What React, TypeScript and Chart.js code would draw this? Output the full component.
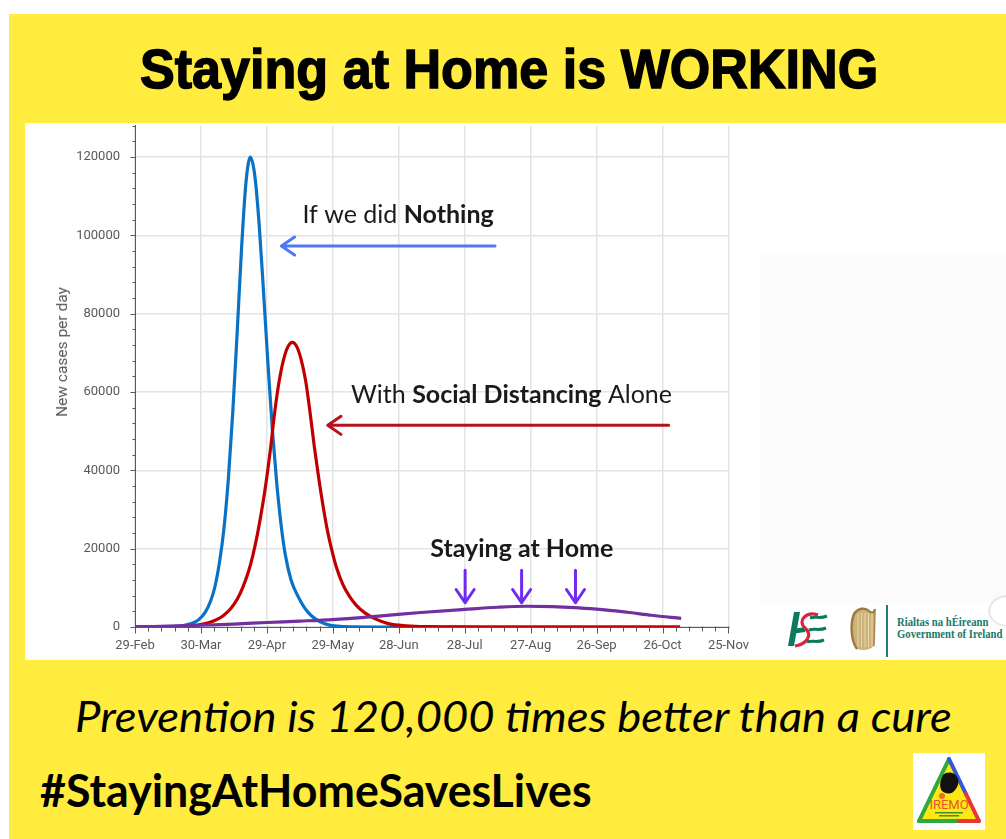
import React, { useEffect, useLayoutEffect, useRef, useState } from 'react';
import { Chart, registerables } from 'chart.js';

Chart.register(...registerables);

// ---------- data ----------
const X_TICK_DAYS = [0, 30, 60, 90, 120, 150, 180, 210, 240, 270];
const X_TICK_LABELS = ['29-Feb', '30-Mar', '29-Apr', '29-May', '28-Jun', '28-Jul', '27-Aug', '26-Sep', '26-Oct', '25-Nov'];
const Y_TICKS = [0, 20000, 40000, 60000, 80000, 100000, 120000];
const X_MAX = 270;
const Y_MAX = 128000;
const X_MINOR_STEP = 6;
const Y_MINOR_STEP = 4000;

// "If we did Nothing" (day since 29-Feb, new cases per day)
const NOTHING_DAYS = [0, 10, 17, 22, 26, 29, 32, 34.5, 36.5, 38.5, 40.5, 42.5, 44.5, 46.5, 48.5, 50.5, 52.5, 54.5, 56.5, 58.5, 60.5, 62.5, 64.5, 66.5, 68.5, 71, 74, 77, 80, 84, 88, 92, 100, 110, 248];
const NOTHING_CASES = [0, 22, 113, 367, 935, 1890, 3800, 6750, 10600, 16700, 25300, 38000, 55000, 75400, 96900, 113600, 120000, 115300, 102700, 85400, 67100, 50400, 36600, 25900, 18100, 12000, 8000, 5000, 3000, 1400, 550, 200, 30, 0, 0];

// "With Social Distancing Alone"
const DISTANCING_DAYS = [0, 10, 18, 25, 31, 36, 40, 43.6, 46.6, 49.1, 51.6, 53.6, 55.6, 57.6, 59.6, 61.6, 63.6, 65.6, 67.6, 69.6, 71.6, 73.6, 75.6, 77.6, 79.6, 81.6, 83.6, 85.6, 87.6, 89.6, 91.6, 94.6, 97.6, 100.6, 104.6, 109.6, 115.6, 123.6, 133.6, 146.6, 160, 248];
const DISTANCING_CASES = [0, 30, 116, 323, 770, 1590, 2830, 4700, 7190, 10200, 14100, 18250, 23400, 29600, 36800, 45300, 55000, 62800, 68300, 71600, 72700, 71600, 68300, 63000, 55000, 46000, 38000, 30800, 24500, 19500, 15300, 10800, 7800, 5600, 3600, 2000, 800, 300, 80, 10, 0, 0];

// "Staying at Home"
const HOME_DAYS = [0, 15, 30, 45, 60, 75, 90, 111, 130, 150, 165, 178, 190, 200, 210, 217, 225, 235, 248.5];
const HOME_CASES = [0, 200, 450, 750, 1150, 1500, 1900, 2800, 3700, 4500, 5050, 5300, 5200, 4950, 4550, 4200, 3700, 3000, 2200];

// ---------- annotations (data units) ----------
const ANNOTATION_ARROWS = [
  { x1: 163.8, y1: 97300, x2: 66.6, y2: 97300, color: '#4F78F2' },
  { x1: 242.8, y1: 51500, x2: 87.7, y2: 51500, color: '#B5121B' },
  { x1: 150.2, y1: 14500, x2: 150.2, y2: 6200, color: '#6F2BEF' },
  { x1: 175.9, y1: 14500, x2: 175.9, y2: 6200, color: '#6F2BEF' },
  { x1: 200.4, y1: 14500, x2: 200.4, y2: 6200, color: '#6F2BEF' },
];
const ANNOTATION_TEXTS = [
  { x: 76.2, y: 103200, align: 'left', parts: [['If we did ', false], ['Nothing', true]] },
  { x: 98.3, y: 57200, align: 'left', parts: [['With ', false], ['Social Distancing', true], [' Alone', false]] },
  { x: 176, y: 17900, align: 'center', parts: [['Staying at Home', true]] },
];

const toPoints = (xs: number[], ys: number[]) => xs.map((x, i) => ({ x, y: ys[i] }));

const AXIS_GREY = '#595959';
const ANN_FONT = 'Lato, "Open Sans", sans-serif';
const ANN_SIZE = 25;

const decorPlugin = {
  id: 'decor',
  beforeDatasetsDraw(chart: any) {
    const { ctx, scales } = chart;
    const x = scales.x;
    const y = scales.y;
    ctx.save();
    ctx.strokeStyle = AXIS_GREY;
    ctx.lineWidth = 1;
    const x0 = Math.round(x.getPixelForValue(0)) + 0.5;
    for (let v = 0; v <= Y_MAX; v += Y_MINOR_STEP) {
      const py = Math.round(y.getPixelForValue(v)) + 0.5;
      const len = v % 20000 === 0 ? 5 : 3;
      ctx.beginPath();
      ctx.moveTo(x0 - len, py);
      ctx.lineTo(x0, py);
      ctx.stroke();
    }
    const y0 = Math.round(y.getPixelForValue(0)) + 0.5;
    for (let d = 0; d <= X_MAX; d += X_MINOR_STEP) {
      const px = Math.round(x.getPixelForValue(d)) + 0.5;
      const len = d % 30 === 0 ? 6 : 4;
      ctx.beginPath();
      ctx.moveTo(px, y0 - 1);
      ctx.lineTo(px, y0 + len);
      ctx.stroke();
    }
    ctx.restore();
  },
  afterDatasetsDraw(chart: any) {
    const { ctx, scales } = chart;
    const x = scales.x;
    const y = scales.y;
    ctx.save();
    ctx.lineCap = 'round';
    ctx.lineJoin = 'round';
    for (const a of ANNOTATION_ARROWS) {
      const px1 = x.getPixelForValue(a.x1);
      const py1 = y.getPixelForValue(a.y1);
      const px2 = x.getPixelForValue(a.x2);
      const py2 = y.getPixelForValue(a.y2);
      const ang = Math.atan2(py2 - py1, px2 - px1);
      const head = 16;
      const spread = 0.6;
      ctx.strokeStyle = a.color;
      ctx.lineWidth = 3;
      ctx.beginPath();
      ctx.moveTo(px1, py1);
      ctx.lineTo(px2, py2);
      ctx.moveTo(px2 - head * Math.cos(ang - spread), py2 - head * Math.sin(ang - spread));
      ctx.lineTo(px2, py2);
      ctx.lineTo(px2 - head * Math.cos(ang + spread), py2 - head * Math.sin(ang + spread));
      ctx.stroke();
    }
    ctx.fillStyle = '#1a1a1a';
    ctx.textBaseline = 'alphabetic';
    ctx.textAlign = 'left';
    for (const t of ANNOTATION_TEXTS) {
      let total = 0;
      const widths: number[] = [];
      for (const [s, b] of t.parts as [string, boolean][]) {
        ctx.font = `${b ? 'bold ' : ''}${ANN_SIZE}px ${ANN_FONT}`;
        const w = ctx.measureText(s).width;
        widths.push(w);
        total += w;
      }
      let px = x.getPixelForValue(t.x);
      if (t.align === 'center') px -= total / 2;
      const py = y.getPixelForValue(t.y);
      (t.parts as [string, boolean][]).forEach(([s, b], i) => {
        ctx.font = `${b ? 'bold ' : ''}${ANN_SIZE}px ${ANN_FONT}`;
        ctx.fillText(s, px, py);
        px += widths[i];
      });
    }
    ctx.restore();
  },
};

function FitText(props: { text: React.ReactNode; left: number; top: number; width: number; style: React.CSSProperties }) {
  const ref = useRef<HTMLSpanElement>(null);
  const [sx, setSx] = useState(1);
  useLayoutEffect(() => {
    if (ref.current) {
      const w = ref.current.offsetWidth;
      if (w > 0) setSx(props.width / w);
    }
  }, []);
  return (
    <span
      ref={ref}
      style={{
        position: 'absolute',
        left: props.left,
        top: props.top,
        whiteSpace: 'nowrap',
        lineHeight: 1,
        transform: `scaleX(${sx})`,
        transformOrigin: 'left top',
        ...props.style,
      }}
    >
      {props.text}
    </span>
  );
}

function LineChart() {
  const ref = useRef<HTMLCanvasElement>(null);
  useEffect(() => {
    if (!ref.current) return;
    const tickFont = { family: 'Roboto, "Open Sans", sans-serif', size: 13 };
    const chart = new Chart(ref.current, {
      type: 'line',
      data: {
        datasets: [
          {
            label: 'Staying at Home',
            data: toPoints(HOME_DAYS, HOME_CASES),
            borderColor: '#7030A0',
            borderWidth: 3.2,
            pointRadius: 0,
            cubicInterpolationMode: 'monotone',
          },
          {
            label: 'With Social Distancing Alone',
            data: toPoints(DISTANCING_DAYS, DISTANCING_CASES),
            borderColor: '#C00000',
            borderWidth: 3.2,
            pointRadius: 0,
            cubicInterpolationMode: 'monotone',
          },
          {
            label: 'If we did Nothing',
            data: toPoints(NOTHING_DAYS, NOTHING_CASES),
            borderColor: '#0A72C4',
            borderWidth: 3.2,
            pointRadius: 0,
            cubicInterpolationMode: 'monotone',
          },
        ],
      },
      options: {
        animation: false,
        responsive: false,
        devicePixelRatio: 1,
        layout: { padding: { top: 20, right: 30, left: 0, bottom: 0 } },
        plugins: { legend: { display: false }, tooltip: { enabled: false } },
        scales: {
          x: {
            type: 'linear',
            min: 0,
            max: X_MAX,
            afterBuildTicks: (s: any) => {
              s.ticks = X_TICK_DAYS.map((v) => ({ value: v }));
            },
            afterFit: (s: any) => {
              s.height = 30;
            },
            ticks: {
              autoSkip: false,
              maxRotation: 0,
              padding: 11,
              color: AXIS_GREY,
              font: tickFont,
              callback: (v: any) => {
                const i = X_TICK_DAYS.indexOf(Number(v));
                return i >= 0 ? X_TICK_LABELS[i] : '';
              },
            },
            grid: { color: '#E4E4E4', lineWidth: 1.5, drawTicks: false },
            border: { color: AXIS_GREY, width: 1 },
          },
          y: {
            min: 0,
            max: Y_MAX,
            afterBuildTicks: (s: any) => {
              s.ticks = Y_TICKS.map((v) => ({ value: v }));
            },
            afterFit: (s: any) => {
              s.width = 110;
            },
            ticks: {
              padding: 15,
              color: AXIS_GREY,
              font: tickFont,
              callback: (v: any) => String(v),
            },
            grid: { color: '#E4E4E4', lineWidth: 1.5, drawTicks: false },
            border: { color: AXIS_GREY, width: 1 },
          },
        },
      },
      plugins: [decorPlugin],
    } as any);
    return () => chart.destroy();
  }, []);
  return (
    <canvas
      ref={ref}
      width={735}
      height={554}
      style={{ position: 'absolute', left: 25, top: 103, width: 735, height: 554 }}
    />
  );
}

function HseLogo() {
  return (
    <svg width="46" height="38" viewBox="0 0 46 38" style={{ position: 'absolute', left: 783, top: 610 }}>
      <path d="M5 36 L11 36 L17 2 L11 2 Z" fill="#0B7A5E" />
      <path d="M9 19 L23 17 L22 22 L8 24 Z" fill="#0B7A5E" />
      <path d="M35 5 C23 1, 14 11, 22 18 C30 25, 24 34, 12 36" stroke="#D7263D" strokeWidth="3.2" fill="none" />
      <path d="M27 8 C32 6, 37 9, 44 6" stroke="#0B7A5E" strokeWidth="3" fill="none" />
      <path d="M26 20 C31 18, 36 21, 43 18" stroke="#0B7A5E" strokeWidth="3" fill="none" />
      <path d="M24 32 C29 30, 34 33, 41 30" stroke="#0B7A5E" strokeWidth="3" fill="none" />
    </svg>
  );
}

function HarpLogo() {
  return (
    <svg width="30" height="46" viewBox="0 0 30 46" style={{ position: 'absolute', left: 848, top: 606 }}>
      <path d="M6 8 C10 2, 17 1, 21 5 C24 8, 26 7, 27 3 L26 40 C22 44, 15 45, 9 43 C3 35, 2 18, 6 8 Z" fill="#CDB27A" />
      <path d="M9 43 C3 35, 2 18, 6 8 C10 2, 17 1, 21 5 C24 8, 26 7, 27 3" fill="none" stroke="#9A7B3F" strokeWidth="2.4" />
      <path d="M27 3 L26 40" stroke="#A8894C" strokeWidth="1.6" />
      {[10, 13.5, 17, 20.5, 24].map((sx) => (
        <line key={sx} x1={sx} y1={7} x2={sx} y2={41} stroke="#E8DAB4" strokeWidth="0.9" />
      ))}
    </svg>
  );
}

function IremoLogo() {
  return (
    <div style={{ position: 'absolute', left: 913, top: 753, width: 72, height: 77, background: '#fff' }}>
      <svg width="72" height="77" viewBox="0 0 72 77">
        <path d="M36 6 L66 68 L6 68 Z" fill="#FFE812" stroke="none" />
        <path d="M36 6 L6 68" stroke="#2EA83F" strokeWidth="4" strokeLinecap="round" />
        <path d="M6 68 L46 68" stroke="#2EA83F" strokeWidth="4" strokeLinecap="round" />
        <path d="M46 68 L66 68" stroke="#E53935" strokeWidth="4" strokeLinecap="round" />
        <path d="M36 6 L53 41" stroke="#3457D5" strokeWidth="4" strokeLinecap="round" />
        <path d="M53 41 L66 68" stroke="#E53935" strokeWidth="4" strokeLinecap="round" />
        <path d="M30 22 C34 18, 42 19, 44 24 C47 28, 45 34, 42 37 C39 42, 32 41, 29 38 C26 34, 27 28, 30 22 Z" fill="#111" />
        <circle cx="29" cy="43" r="3" fill="#F26B2A" />
        <text x="36" y="56" textAnchor="middle" fontFamily="Roboto, sans-serif" fontSize="13" fill="#E4572E">IREMO</text>
        <rect x="22" y="59" width="28" height="1.5" fill="#3A8F3A" />
        <rect x="26" y="62" width="20" height="1.5" fill="#3A8F3A" />
      </svg>
    </div>
  );
}

export default function App() {
  return (
    <div style={{ position: 'absolute', left: 0, top: 0, width: 1006, height: 839, overflow: 'hidden', background: '#fff' }}>
      <div style={{ position: 'absolute', left: 9, top: 14, width: 997, height: 825, background: '#FFEC3E' }} />
      <FitText
        text="Staying at Home is WORKING"
        left={140}
        top={42}
        width={738}
        style={{
          fontFamily: '"Liberation Sans Narrow", "Liberation Sans", Arial, sans-serif',
          fontWeight: 700,
          fontSize: 55,
          color: '#000',
          WebkitTextStroke: '1.4px #000',
        }}
      />
      <div style={{ position: 'absolute', left: 25, top: 123, width: 981, height: 537, background: '#fff' }} />
      <div style={{ position: 'absolute', left: 760, top: 255, width: 246, height: 348, background: '#FBFBFB' }} />
      <div style={{ position: 'absolute', left: 989, top: 596, width: 34, height: 28, borderRadius: '50%', border: '1px solid #DADADA', background: '#fff', boxShadow: '0 0 3px rgba(0,0,0,0.12)' }} />
      <LineChart />
      <div
        style={{
          position: 'absolute',
          left: 62,
          top: 352,
          transform: 'translate(-50%, -50%) rotate(-90deg)',
          fontFamily: 'Roboto, "Open Sans", sans-serif',
          fontSize: 15.5,
          color: AXIS_GREY,
          whiteSpace: 'nowrap',
        }}
      >
        New cases per day
      </div>
      <HseLogo />
      <HarpLogo />
      <div style={{ position: 'absolute', left: 886, top: 605, width: 1.5, height: 52, background: '#1E7F6E' }} />
      <FitText
        text="Rialtas na hÉireann"
        left={897}
        top={616}
        width={91}
        style={{ fontFamily: '"Liberation Serif", serif', fontWeight: 700, fontSize: 12, color: '#167A6A' }}
      />
      <FitText
        text="Government of Ireland"
        left={897}
        top={628}
        width={105}
        style={{ fontFamily: '"Liberation Serif", serif', fontWeight: 700, fontSize: 12, color: '#167A6A' }}
      />
      <FitText
        text="Prevention is 120,000 times better than a cure"
        left={75}
        top={695}
        width={877}
        style={{ fontFamily: 'Lato, "Open Sans", sans-serif', fontStyle: 'italic', fontWeight: 400, fontSize: 42, color: '#000' }}
      />
      <FitText
        text="#StayingAtHomeSavesLives"
        left={40}
        top={767}
        width={552}
        style={{ fontFamily: 'Lato, "Open Sans", sans-serif', fontWeight: 700, fontSize: 46, color: '#000' }}
      />
      <IremoLogo />
    </div>
  );
}
